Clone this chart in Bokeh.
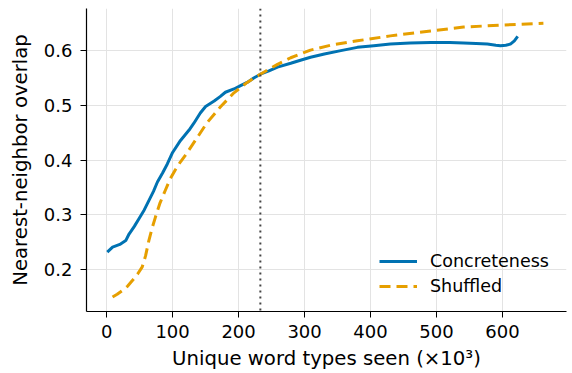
from bokeh.plotting import figure
from bokeh.models import Span, FixedTicker, Range1d, Legend, LegendItem
from bokeh.embed import file_html
from bokeh.resources import INLINE

# Unique word types seen (thousands) vs nearest-neighbor overlap
conc_x = [1, 9, 20, 29, 34, 42, 49, 57, 64, 71, 77, 85, 92, 100, 112, 125, 132,
          142, 150, 163, 172, 180, 193, 203, 213, 223, 233, 246, 259, 279, 295,
          309, 330, 355, 380, 405, 430, 460, 491, 520, 541, 560, 577, 590, 597,
          605, 612, 618, 623]
conc_y = [0.232, 0.241, 0.246, 0.253, 0.265, 0.279, 0.293, 0.309, 0.326, 0.343,
          0.360, 0.377, 0.393, 0.414, 0.436, 0.455, 0.467, 0.486, 0.498, 0.508,
          0.516, 0.524, 0.530, 0.536, 0.542, 0.550, 0.557, 0.563, 0.570, 0.577,
          0.583, 0.588, 0.594, 0.600, 0.606, 0.609, 0.612, 0.614, 0.615, 0.615,
          0.614, 0.613, 0.612, 0.610, 0.609, 0.610, 0.612, 0.618, 0.626]

shuf_x = [9, 16, 24, 32, 39, 47, 54, 59, 64, 69, 74, 81, 89, 96, 104, 112, 120,
          135, 152, 173, 193, 213, 233, 259, 279, 309, 340, 380, 430, 491, 541,
          602, 662]
shuf_y = [0.150, 0.155, 0.162, 0.170, 0.180, 0.192, 0.205, 0.225, 0.253, 0.276,
          0.296, 0.322, 0.345, 0.365, 0.382, 0.397, 0.410, 0.437, 0.468, 0.498,
          0.523, 0.542, 0.557, 0.575, 0.587, 0.601, 0.610, 0.618, 0.627, 0.636,
          0.643, 0.647, 0.650]

x_ticks = [0, 100, 200, 300, 400, 500, 600]
y_ticks = [0.2, 0.3, 0.4, 0.5, 0.6]
cutoff_x = 233

BLUE = "#0072B2"
ORANGE = "#E69F00"
FONT = "DejaVu Sans"

p = figure(width=572, height=373, output_backend="svg", toolbar_location=None,
           x_range=Range1d(-30.5, 697), y_range=Range1d(0.1235, 0.677),
           min_border_left=86, min_border_right=6, min_border_top=8,
           min_border_bottom=62)
p.outline_line_color = None
p.background_fill_color = "white"

l1 = p.line(conc_x, conc_y, line_color=BLUE, line_width=3)
l2 = p.line(shuf_x, shuf_y, line_color=ORANGE, line_width=3,
            line_dash="11 6")

p.add_layout(Span(location=cutoff_x, dimension="height", line_color="#444444",
                  line_width=2, line_dash="2 4"))

p.xaxis.ticker = FixedTicker(ticks=x_ticks)
p.yaxis.ticker = FixedTicker(ticks=y_ticks)

for ax in (p.xaxis[0], p.yaxis[0]):
    ax.axis_line_color = "black"
    ax.axis_line_width = 1.2
    ax.major_tick_out = 6
    ax.major_tick_in = 0
    ax.minor_tick_line_color = None
    ax.major_tick_line_color = "black"
    ax.major_label_text_font = FONT
    ax.major_label_text_font_size = "18px"
    ax.major_label_text_color = "black"
    ax.axis_label_text_font = FONT
    ax.axis_label_text_font_size = "19.7px"
    ax.axis_label_text_font_style = "normal"
    ax.axis_label_text_color = "black"

p.xaxis.axis_label = "Unique word types seen (×10³)"
p.yaxis.axis_label = "Nearest-neighbor overlap"
p.xaxis.major_label_standoff = 7
p.yaxis.major_label_standoff = 8
p.xaxis.axis_label_standoff = 6
p.yaxis.axis_label_standoff = 9

for g in (p.xgrid[0], p.ygrid[0]):
    g.grid_line_color = "#e3e3e3"
    g.grid_line_width = 1

legend = Legend(items=[LegendItem(label="Concreteness", renderers=[l1]),
                       LegendItem(label="Shuffled", renderers=[l2])],
                location=(293, 15))
legend.background_fill_alpha = 0
legend.border_line_color = None
legend.label_text_font = FONT
legend.label_text_font_size = "17.5px"
legend.label_text_color = "black"
legend.glyph_width = 38
legend.label_standoff = 13
legend.spacing = 5
legend.padding = 0
legend.margin = 0
p.add_layout(legend)

open("out.html", "w").write(file_html(p, INLINE))
